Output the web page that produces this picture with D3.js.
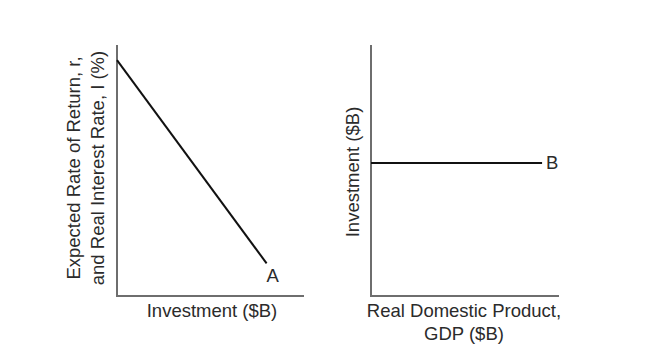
<!DOCTYPE html>
<html>
<head>
<meta charset="utf-8">
<script src="https://cdn.jsdelivr.net/npm/d3@7"></script>
<style>
  body { margin: 0; background: #fff; }
  text { font-family: "Liberation Sans", Arial, sans-serif; fill: #2b2b2b; }
</style>
</head>
<body>
<script>
// left panel: investment demand curve (rate vs investment)
const demandX = [0, 8];
const demandY = [9.4, 1.3];
const demandLabel = "A";
// right panel: investment schedule (investment vs GDP)
const scheduleX = [0, 9.1];
const scheduleY = [5.3, 5.3];
const scheduleLabel = "B";

const leftXTitle = ["Investment ($B)"];
const leftYTitle = ["Expected Rate of Return, r,", "and Real Interest Rate, I (%)"];
const rightXTitle = ["Real Domestic Product,", "GDP ($B)"];
const rightYTitle = ["Investment ($B)"];

const width = 653, height = 357;
const fontSize = "18.5px";
const svg = d3.select("body").append("svg")
    .attr("width", width)
    .attr("height", height);

function panel({x0, x1, y0, y1, xs, ys, label, labelPos, xTitle, xTitleX, yTitle, yTitleX, yTitleY}) {
  const x = d3.scaleLinear().domain([0, 10]).range([x0, x1]);
  const y = d3.scaleLinear().domain([0, 10]).range([y0, y1]);
  const g = svg.append("g");

  // axes without ticks
  g.append("path")
      .attr("d", `M${x0},${y1}V${y0}H${x1}`)
      .attr("fill", "none")
      .attr("stroke", "#6e6e6e")
      .attr("stroke-width", 2);

  const pts = xs.map((d, i) => [x(d), y(ys[i])]);
  g.append("path")
      .attr("d", d3.line()(pts))
      .attr("fill", "none")
      .attr("stroke", "#111")
      .attr("stroke-width", 2);

  const end = pts[pts.length - 1];
  g.append("text")
      .attr("x", end[0] + labelPos[0])
      .attr("y", end[1] + labelPos[1])
      .attr("text-anchor", labelPos[2])
      .style("font-size", fontSize)
      .text(label);

  g.append("text")
      .attr("text-anchor", "middle")
      .style("font-size", fontSize)
      .selectAll("tspan")
      .data(xTitle)
      .join("tspan")
      .attr("x", xTitleX)
      .attr("y", (d, i) => y0 + 21 + i * 23)
      .text(d => d);

  g.append("text")
      .attr("text-anchor", "middle")
      .attr("transform", `translate(${yTitleX},${yTitleY}) rotate(-90)`)
      .style("font-size", fontSize)
      .selectAll("tspan")
      .data(yTitle)
      .join("tspan")
      .attr("x", 0)
      .attr("y", (d, i) => i * 24)
      .text(d => d);
}

panel({
  x0: 117, x1: 304, y0: 296, y1: 45,
  xs: demandX, ys: demandY, label: demandLabel, labelPos: [6, 19, "middle"],
  xTitle: leftXTitle, xTitleX: 212,
  yTitle: leftYTitle, yTitleX: 80, yTitleY: 168
});

panel({
  x0: 371, x1: 559, y0: 296, y1: 45,
  xs: scheduleX, ys: scheduleY, label: scheduleLabel, labelPos: [4, 6, "start"],
  xTitle: rightXTitle, xTitleX: 464,
  yTitle: rightYTitle, yTitleX: 359, yTitleY: 172
});
</script>
</body>
</html>
